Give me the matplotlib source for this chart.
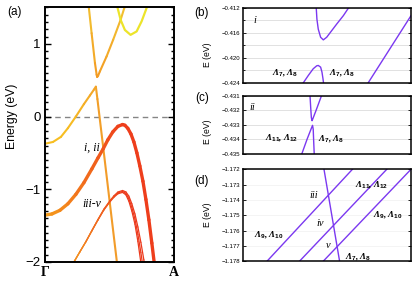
import numpy as np
import matplotlib
matplotlib.use("Agg")
import matplotlib.pyplot as plt
from matplotlib.collections import LineCollection
from matplotlib.colors import to_rgb
from matplotlib.ticker import MultipleLocator, FuncFormatter

# ---- (a) bands along Gamma -> A, k normalised 0..1 ----
val_k = [0, 0.062, 0.124, 0.178, 0.240, 0.302, 0.349, 0.380, 0.395, 0.407, 0.453, 0.504, 0.558]
val_E = [-0.374, -0.35, -0.28, -0.16, 0.0, 0.17, 0.29, 0.37, 0.41, 0.24, -0.44, -1.20, -2.0]

cond_k = [0.337, 0.341, 0.362, 0.388, 0.401, 0.405, 0.412, 0.426, 0.478, 0.529, 0.587, 0.615, 0.626]
cond_E = [1.55, 1.49, 1.146, 0.735, 0.575, 0.544, 0.56, 0.62, 0.826, 1.055, 1.33, 1.49, 1.55]

para_k = [0.560, 0.564, 0.587, 0.620, 0.664, 0.711, 0.750, 0.788, 0.795]
para_E = [1.55, 1.49, 1.33, 1.19, 1.123, 1.17, 1.31, 1.49, 1.55]

thick_k = [0, 0.054, 0.116, 0.178, 0.240, 0.302, 0.364, 0.411, 0.453, 0.488, 0.527, 0.566,
           0.602, 0.620, 0.643, 0.667, 0.690, 0.713, 0.736, 0.760, 0.783, 0.806, 0.829, 0.853]
thick_E = [-1.356, -1.34, -1.29, -1.20, -1.07, -0.91, -0.72, -0.57, -0.44, -0.32, -0.21, -0.135,
           -0.11, -0.12, -0.163, -0.24, -0.35, -0.50, -0.68, -0.89, -1.14, -1.42, -1.74, -2.09]

low_k = [0.225, 0.271, 0.318, 0.364, 0.411, 0.457, 0.502, 0.535, 0.566, 0.602, 0.628, 0.651,
         0.674, 0.698, 0.721, 0.744, 0.767, 0.783]
low_E1 = [-2.0, -1.86, -1.72, -1.572, -1.424, -1.286, -1.178, -1.11, -1.062, -1.043, -1.077, -1.165,
          -1.30, -1.48, -1.72, -2.01, -2.33, -2.55]
low_E2 = [-2.0, -1.86, -1.72, -1.57, -1.42, -1.28, -1.17, -1.10, -1.05, -1.03, -1.057, -1.13,
          -1.25, -1.41, -1.62, -1.87, -2.15, -2.35]
low_E3 = [-2.0, -1.86, -1.72, -1.568, -1.416, -1.274, -1.162, -1.09, -1.038, -1.017, -1.037, -1.095,
          -1.20, -1.34, -1.52, -1.73, -1.97, -2.15]

# ---- (b) zoom i ----
b_up_k = [0.437, 0.441, 0.449, 0.463, 0.479, 0.499, 0.529, 0.559, 0.598, 0.627, 0.632]
b_up_E = [-0.412, -0.4138, -0.4154, -0.4167, -0.41712, -0.4167, -0.41563, -0.41456, -0.41323, -0.41206, -0.4119]
b_lo_k = [0.353, 0.390, 0.419, 0.440, 0.449, 0.463, 0.471, 0.477, 0.481]
b_lo_E = [-0.4243, -0.42283, -0.42176, -0.42128, -0.42123, -0.4215, -0.4223, -0.42336, -0.4242]
b_r_k = [0.746, 1.0]
b_r_E = [-0.424, -0.41323]

# ---- (c) zoom ii ----
c_up_k = [0.399, 0.400, 0.404, 0.408, 0.412, 0.416, 0.436, 0.468, 0.474]
c_up_E = [-0.4308, -0.431, -0.4318, -0.4325, -0.43271, -0.4326, -0.4320, -0.431, -0.4308]
c_lo_k = [0.351, 0.382, 0.409, 0.415, 0.419, 0.422, 0.425]
c_lo_E = [-0.435, -0.434, -0.4332, -0.43303, -0.4333, -0.4342, -0.435]

# ---- (d) zoom iii-v ----
d_lines_k = [[0.143, 0.652], [0.336, 0.856], [0.477, 1.0], [0.483, 0.576]]
d_lines_E = [[-1.178, -1.172], [-1.178, -1.172], [-1.178, -1.172], [-1.172, -1.178]]

plt.rcParams.update({"font.family": "Liberation Sans", "mathtext.fontset": "custom",
                     "mathtext.rm": "Liberation Sans:bold", "mathtext.default": "rm",
                     "axes.unicode_minus": True})
SERIF = "Liberation Serif"
PURP = "#7b38f0"


def grad(ax, x, y, s, c0, c1, lw):
    x = np.asarray(x, float); y = np.asarray(y, float); s = np.asarray(s, float)
    pts = np.column_stack([x, y]).reshape(-1, 1, 2)
    seg = np.concatenate([pts[:-1], pts[1:]], axis=1)
    sm = 0.5 * (s[:-1] + s[1:])
    a, b = np.array(to_rgb(c0)), np.array(to_rgb(c1))
    cols = [tuple((1 - t) * a + t * b) for t in sm]
    ax.add_collection(LineCollection(seg, colors=cols, linewidths=lw, capstyle="round",
                                     joinstyle="round"))


fig = plt.figure(figsize=(4.16, 2.86), dpi=100)

# ---------- (a) ----------
ax = fig.add_axes([0.108, 0.084, 0.310, 0.890])
ax.axhline(0, color="#858585", lw=1.0, dashes=(4, 3), zorder=1)
k = np.array(val_k)
grad(ax, val_k, val_E, np.clip((k - 0.2) / 0.25, 0, 1), "#f7be22", "#f29c2a", 1.5)
e = np.array(cond_E)
grad(ax, cond_k, cond_E, np.clip((e - 0.55) / 0.9, 0, 1), "#f39a22", "#f2c232", 1.5)
ax.plot(para_k, para_E, color="#ece42a", lw=1.6, solid_capstyle="round")
k = np.array(low_k)
for E in (low_E1, low_E2, low_E3):
    grad(ax, low_k, E, np.clip((k - 0.225) / 0.38, 0, 1), "#f39322", "#ec391c", 0.9)
k = np.array(thick_k)
grad(ax, thick_k, thick_E, np.clip(k / 0.6, 0, 1), "#f5a01c", "#ee3e1c", 2.4)
ax.set_xlim(0, 1); ax.set_ylim(-2, 1.5)
ax.yaxis.set_major_locator(MultipleLocator(1))
ax.yaxis.set_minor_locator(MultipleLocator(0.1))
ax.yaxis.set_major_formatter(FuncFormatter(lambda v, p: f"{v:.0f}".replace("-", "\u2212")))
ax.tick_params(axis="y", which="both", direction="in", left=True, right=True, labelsize=9.5,
               width=1.0, pad=3)
ax.tick_params(axis="y", which="major", length=4.5)
ax.tick_params(axis="y", which="minor", length=2.5)
ax.set_xticks([0, 1])
ax.set_xticklabels(["\u0393", "A"], fontfamily=SERIF, fontweight="bold", fontsize=10)
ax.tick_params(axis="x", length=0, pad=3)
for sp in ax.spines.values():
    sp.set_linewidth(1.4)
ax.text(0.426, -0.43, "i, ii", family=SERIF, style="italic", fontsize=8.5, ha="right", va="center")
ax.text(0.440, -1.20, "iii-v", family=SERIF, style="italic", fontsize=8.5, ha="right", va="center")

fig.text(0.029, 0.594, "Energy (eV)", rotation=90, ha="center", va="center", fontsize=8.8)
fig.text(0.036, 0.958, "(a)", ha="center", va="center", fontsize=8.5)


def small_panel(rect, ylim, major, minor, grid_c):
    a = fig.add_axes(rect)
    a.set_xlim(0, 1); a.set_ylim(*ylim)
    a.yaxis.set_major_locator(MultipleLocator(major))
    a.yaxis.set_minor_locator(MultipleLocator(minor))
    a.yaxis.set_major_formatter(FuncFormatter(lambda v, p: f"{v:.3f}".replace("-", "\u2212")))
    a.tick_params(axis="y", which="both", direction="in", left=True, right=True, labelsize=4.3,
                  width=0.6, pad=1.5)
    a.tick_params(axis="y", which="major", length=2.5)
    a.tick_params(axis="y", which="minor", length=1.5)
    a.set_xticks([])
    a.grid(True, axis="y", which="both", color=grid_c, lw=0.6)
    a.set_axisbelow(True)
    for sp in a.spines.values():
        sp.set_linewidth(1.1)
    return a


def lam(a, x, y, s):
    a.text(x, y, s, family=SERIF, style="italic", weight="bold", fontsize=6.5,
           ha="center", va="center")


def roman(a, x, y, s, ha="center"):
    a.text(x, y, s, family=SERIF, style="italic", fontsize=7.5, ha=ha, va="center")


# ---------- (b) ----------
axb = small_panel([0.5834, 0.7108, 0.4046, 0.2612], (-0.424, -0.412), 0.004, 0.002, "#dcdcdc")
axb.plot(b_up_k, b_up_E, color=PURP, lw=1.0)
axb.plot(b_lo_k, b_lo_E, color=PURP, lw=1.0)
axb.plot(b_r_k, b_r_E, color=PURP, lw=1.0)
roman(axb, 0.073, -0.41403, "i")
lam(axb, 0.251, -0.42246, "\u039b$_{7}$, \u039b$_{8}$")
lam(axb, 0.593, -0.42246, "\u039b$_{7}$, \u039b$_{8}$")

# ---------- (c) ----------
axc = small_panel([0.5834, 0.4615, 0.4046, 0.2035], (-0.435, -0.431), 0.001, 0.001, "#dcdcdc")
axc.plot(c_up_k, c_up_E, color=PURP, lw=1.0)
axc.plot(c_lo_k, c_lo_E, color=PURP, lw=1.0)
roman(axc, 0.059, -0.4318, "ii")
lam(axc, 0.231, -0.4339, "\u039b$_{11}$, \u039b$_{12}$")
lam(axc, 0.524, -0.43401, "\u039b$_{7}$, \u039b$_{8}$")

# ---------- (d) ----------
axd = small_panel([0.5834, 0.0857, 0.4046, 0.3224], (-1.178, -1.172), 0.001, 0.001, "#f2f2f2")
for xs, ys in zip(d_lines_k, d_lines_E):
    axd.plot(xs, ys, color=PURP, lw=1.0)
roman(axd, 0.449, -1.17368, "iii", ha="right")
roman(axd, 0.483, -1.17553, "iv", ha="right")
roman(axd, 0.523, -1.17695, "v", ha="right")
lam(axd, 0.156, -1.1763, "\u039b$_{9}$, \u039b$_{10}$")
lam(axd, 0.768, -1.17303, "\u039b$_{11}$, \u039b$_{12}$")
lam(axd, 0.860, -1.17499, "\u039b$_{9}$, \u039b$_{10}$")
lam(axd, 0.689, -1.17772, "\u039b$_{7}$, \u039b$_{8}$")

for y, s in [(0.955, "(b)"), (0.657, "(c)"), (0.367, "(d)")]:
    fig.text(0.485, y, s, ha="center", va="center", fontsize=8.5)
for y in (0.808, 0.538, 0.248):
    fig.text(0.4976, y, "E (eV)", rotation=90, ha="center", va="center", fontsize=6.2)

fig.savefig("out.png", dpi=100)
